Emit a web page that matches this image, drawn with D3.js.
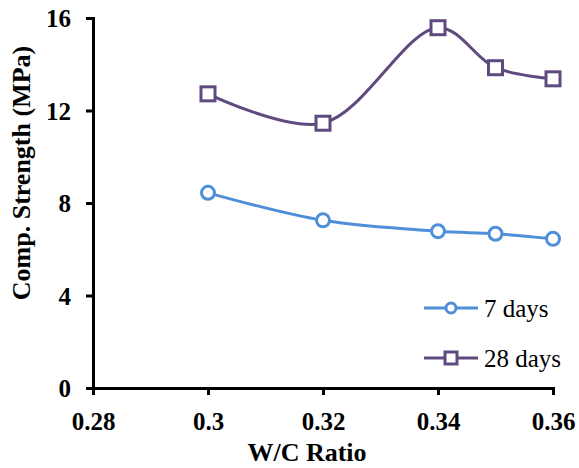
<!DOCTYPE html>
<html><head><meta charset="utf-8">
<script src="https://cdn.jsdelivr.net/npm/d3@7"></script>
<style>body{margin:0;background:#fff}svg{display:block}</style>
</head><body>
<script>
const wc = [0.30, 0.32, 0.34, 0.35, 0.36];
const days7 = [8.44, 7.25, 6.78, 6.67, 6.45];
const days28 = [12.72, 11.45, 15.58, 13.85, 13.37];
const xTicks = [0.28, 0.30, 0.32, 0.34, 0.36];
const yTicks = [0, 4, 8, 12, 16];
const seriesNames = ["7 days", "28 days"];
const colors = ["#4F8FDA", "#5E4A7E"];

const W = 579, H = 468;
const FONT = "Liberation Serif";
const svg = d3.select("body").append("svg").attr("width", W).attr("height", H);
const x = d3.scaleLinear().domain([0.28, 0.36]).range([93, 553]);
const y = d3.scaleLinear().domain([0, 16]).range([388, 18]);

const xAxis = svg.append("g").attr("transform", "translate(0,388)")
  .call(d3.axisBottom(x).tickValues(xTicks).tickSize(7).tickPadding(17).tickFormat(d => d3.format("~g")(+d.toFixed(2))));
const yAxis = svg.append("g").attr("transform", "translate(93,0)")
  .call(d3.axisLeft(y).tickValues(yTicks).tickSize(7).tickPadding(15));
[xAxis, yAxis].forEach(a => {
  a.select(".domain").attr("stroke", "#000").attr("stroke-width", 3);
  a.selectAll(".tick line").attr("stroke", "#000").attr("stroke-width", 3);
  a.selectAll("text").style("font-family", FONT).style("font-size", "25px").style("font-weight", "bold").attr("fill", "#000");
});
yAxis.selectAll("text").attr("dy", "0.35em");

svg.append("text").attr("x", 307).attr("y", 461).attr("text-anchor", "middle")
  .style("font-family", FONT).style("font-size", "26px").style("font-weight", "bold").text("W/C Ratio");
svg.append("text").attr("transform", "translate(30,173) rotate(-90)").attr("text-anchor", "middle")
  .style("font-family", FONT).style("font-size", "26px").style("font-weight", "bold").text("Comp. Strength (MPa)");

const line = d3.line().x(d => x(d[0])).y(d => y(d[1])).curve(d3.curveCatmullRom.alpha(0.5));
const data = [days7, days28].map(s => wc.map((w, i) => [w, s[i]]));

data.forEach((pts, k) => {
  svg.append("path").attr("d", line(pts)).attr("fill", "none").attr("stroke", colors[k]).attr("stroke-width", 3);
});
svg.selectAll(".c").data(data[0]).enter().append("circle")
  .attr("cx", d => x(d[0])).attr("cy", d => y(d[1])).attr("r", 6.5)
  .attr("fill", "#fff").attr("stroke", colors[0]).attr("stroke-width", 3);
svg.selectAll(".s").data(data[1]).enter().append("rect")
  .attr("x", d => x(d[0]) - 7).attr("y", d => y(d[1]) - 7).attr("width", 14).attr("height", 14)
  .attr("fill", "#fff").attr("stroke", colors[1]).attr("stroke-width", 3);

const ly = [308, 358];
seriesNames.forEach((n, k) => {
  const g = svg.append("g");
  g.append("line").attr("x1", 424).attr("x2", 478).attr("y1", ly[k]).attr("y2", ly[k]).attr("stroke", colors[k]).attr("stroke-width", 3);
  if (k === 0) g.append("circle").attr("cx", 451).attr("cy", ly[k]).attr("r", 5).attr("fill", "#fff").attr("stroke", colors[k]).attr("stroke-width", 3);
  else g.append("rect").attr("x", 445).attr("y", ly[k] - 6).attr("width", 12).attr("height", 12).attr("fill", "#fff").attr("stroke", colors[k]).attr("stroke-width", 3);
  g.append("text").attr("x", 484).attr("y", ly[k]).attr("dy", "0.35em")
    .style("font-family", FONT).style("font-size", "25px").text(n);
});
</script>
</body></html>
